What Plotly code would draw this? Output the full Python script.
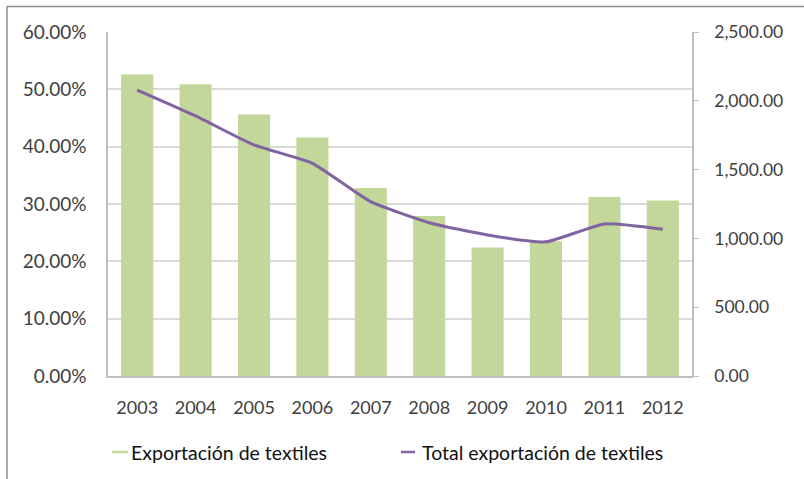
import plotly.graph_objects as go

years = ["2003", "2004", "2005", "2006", "2007", "2008", "2009", "2010", "2011", "2012"]
share_pct = [0.526, 0.509, 0.456, 0.416, 0.328, 0.279, 0.224, 0.235, 0.312, 0.306]
total_exports = [2078, 1890, 1679, 1546, 1267, 1114, 1025, 975, 1105, 1066]

bar_name = "Exportación de textiles"
line_name = "Total exportación de textiles"

GREEN = "#C4D79B"
PURPLE = "#8064A2"
FONT = "Lato"

W, H = 804, 479
L, R, T, B = 108, 692, 32, 376
pw, ph = R - L, B - T

def px(x):
    return (x - L) / pw

def py(y):
    return (B - y) / ph

fig = go.Figure()
fig.add_trace(go.Bar(x=years, y=share_pct, name=bar_name, marker_color=GREEN,
                     marker_line_width=0, yaxis="y", showlegend=False))
fig.add_trace(go.Scatter(x=years, y=total_exports, name=line_name, mode="lines",
                         line=dict(color=PURPLE, width=3, shape="spline", smoothing=0.5),
                         yaxis="y2", showlegend=False))

shapes = [
    # outer frame (top and left)
    dict(type="line", xref="paper", yref="paper", x0=px(7), x1=px(804), y0=py(6.5), y1=py(6.5),
         line=dict(color="#8C8C8C", width=1.5)),
    dict(type="line", xref="paper", yref="paper", x0=px(7), x1=px(7), y0=py(6), y1=py(479),
         line=dict(color="#8C8C8C", width=1.5)),
    # legend markers
    dict(type="line", xref="paper", yref="paper", x0=px(112), x1=px(128), y0=py(452), y1=py(452),
         line=dict(color=GREEN, width=2.5)),
    dict(type="line", xref="paper", yref="paper", x0=px(401), x1=px(415), y0=py(452), y1=py(452),
         line=dict(color=PURPLE, width=2.5)),
]

annotations = [
    dict(text=bar_name, xref="paper", yref="paper", x=px(129), y=py(452), xanchor="left",
         yanchor="middle", showarrow=False, font=dict(family=FONT, size=19.5, color="#111111")),
    dict(text=line_name, xref="paper", yref="paper", x=px(420), y=py(452), xanchor="left",
         yanchor="middle", showarrow=False, font=dict(family=FONT, size=19.5, color="#111111")),
]

fig.update_layout(
    width=W, height=H,
    margin=dict(l=L, r=W - R, t=T, b=H - B, pad=0, autoexpand=False),
    paper_bgcolor="white", plot_bgcolor="white",
    bargap=0.45,
    font=dict(family=FONT, size=18, color="#404040"),
    xaxis=dict(type="category", range=[-0.5, 9.5], showline=True, linecolor="#BFBFBF",
               linewidth=1.5, ticks="", showgrid=False, ticklabelstandoff=15,
               tickfont=dict(size=18, color="#404040")),
    yaxis=dict(range=[0, 0.6], dtick=0.1, tickformat=".2%", showgrid=True,
               gridcolor="#D9D9D9", gridwidth=1.5, showline=True, linecolor="#BFBFBF",
               linewidth=1.5, ticks="", zeroline=False, ticklabelstandoff=16,
               tickfont=dict(size=19, color="#404040")),
    yaxis2=dict(range=[0, 2500], dtick=500, tickformat=",.2f", overlaying="y", side="right",
                showgrid=False, showline=True, linecolor="#BFBFBF", linewidth=1.5,
                ticks="outside", ticklen=5, tickcolor="#BFBFBF", zeroline=False,
                ticklabelstandoff=12, tickfont=dict(size=17.5, color="#404040")),
    shapes=shapes,
    annotations=annotations,
    showlegend=False,
)

fig.write_html("out.html", config={"displayModeBar": False},
               post_script="document.body.style.margin='0';")
